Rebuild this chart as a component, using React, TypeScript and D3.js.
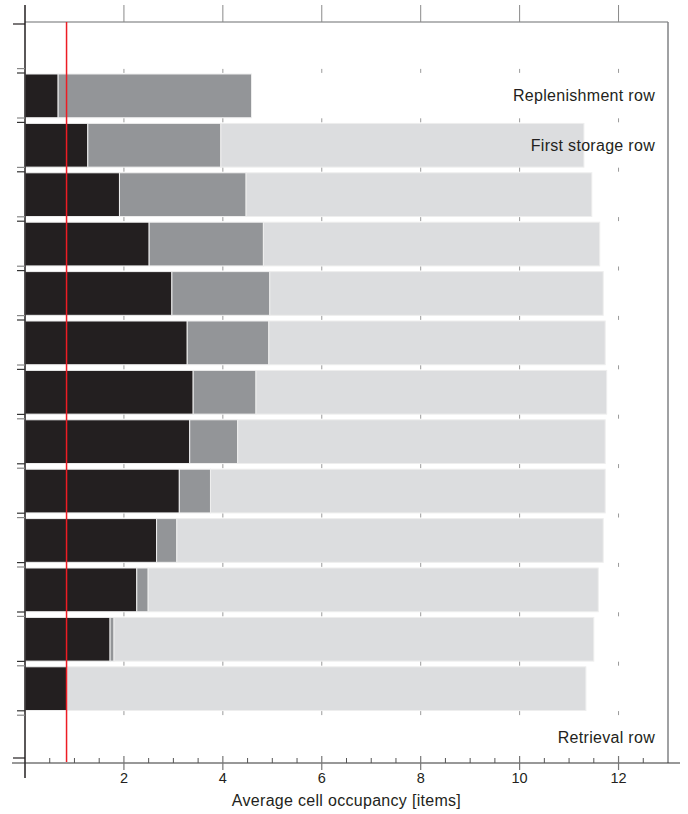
import React from "react";
import * as d3 from "d3";

// Row slots from top to bottom; the first slot is empty headroom and the
// last one is the retrieval row, which holds no bar.
const rowNames = [
  "",
  "Replenishment row",
  "First storage row",
  "Row 3",
  "Row 4",
  "Row 5",
  "Row 6",
  "Row 7",
  "Row 8",
  "Row 9",
  "Row 10",
  "Row 11",
  "Row 12",
  "Row 13",
  "Retrieval row",
];

// Rows that carry a stacked bar
const barRows = rowNames.slice(1, 14);

// Segment widths per bar row (items)
const darkSegment = [0.67, 1.27, 1.91, 2.51, 2.97, 3.28, 3.4, 3.33, 3.12, 2.66, 2.26, 1.72, 0.84];
const midSegment = [3.91, 2.69, 2.56, 2.31, 1.98, 1.65, 1.27, 0.97, 0.63, 0.41, 0.23, 0.08, 0.01];
const lightSegment = [0, 7.34, 6.99, 6.8, 6.74, 6.8, 7.09, 7.43, 7.98, 8.62, 9.1, 9.7, 10.49];

// Vertical reference line
const referenceValue = 0.84;

// Labelled rows at the right
const rowLabels = ["Replenishment row", "First storage row", "Retrieval row"];

const xMajorTicks = [2, 4, 6, 8, 10, 12];
const xTitle = "Average cell occupancy [items]";

const W = 688;
const H = 814;
const left = 25;
const right = 668;
const top = 22;
const bottom = 763;

const segKeys = ["dark", "mid", "light"];
const segColors: Record<string, string> = {
  dark: "#231f20",
  mid: "#939598",
  light: "#dcdddf",
};

export default function App() {
  const x = d3.scaleLinear().domain([0, 13]).range([left, right]);
  const y = d3.scaleLinear().domain([0, rowNames.length]).range([top, bottom]);
  const slotH = y(1) - y(0);

  const table = barRows.map((name, i) => ({
    name,
    dark: darkSegment[i],
    mid: midSegment[i],
    light: lightSegment[i],
  }));
  const stacked = d3.stack<any>().keys(segKeys)(table);

  const minorTicks = d3.range(0.5, 13, 0.5).filter((v) => v % 2 !== 0);
  const boundaries = d3.range(1, rowNames.length);
  const font = "'Liberation Sans', Arial, Helvetica, sans-serif";

  return (
    <>
      <style>{"body{margin:0}"}</style>
      <svg width={W} height={H} style={{ display: "block", background: "#fff" }}>
        {/* stacked bars */}
        {stacked.map((layer) => (
          <g key={layer.key} fill={segColors[layer.key]}>
            {layer.map((d, i) => {
              const w = x(d[1]) - x(d[0]);
              if (w <= 0) return null;
              const slot = rowNames.indexOf(barRows[i]);
              return (
                <rect
                  key={i}
                  x={x(d[0])}
                  y={y(slot) + 2.6}
                  width={w}
                  height={slotH * 0.885}
                  stroke="#eeeeee"
                  strokeWidth={1}
                />
              );
            })}
          </g>
        ))}

        {/* small marks at row boundaries */}
        {boundaries.map((k) =>
          xMajorTicks.map((v) => (
            <line
              key={`m${k}-${v}`}
              x1={x(v)}
              x2={x(v)}
              y1={y(k) - 2.5}
              y2={y(k) + 1.5}
              stroke="#9a9a9a"
              strokeWidth={1}
            />
          ))
        )}

        {/* frame: top and right */}
        <line x1={left} x2={right} y1={top} y2={top} stroke="#6d6e71" strokeWidth={1.2} />
        <line x1={right} x2={right} y1={top} y2={bottom} stroke="#808285" strokeWidth={1.5} />
        {xMajorTicks.map((v) => (
          <line key={`t${v}`} x1={x(v)} x2={x(v)} y1={5} y2={top} stroke="#8a8a8a" strokeWidth={1} />
        ))}

        {/* reference line */}
        <line
          x1={x(referenceValue)}
          x2={x(referenceValue)}
          y1={top}
          y2={bottom - 1}
          stroke="#ed1c24"
          strokeWidth={1.5}
        />

        {/* y axis with edge ticks */}
        <line x1={left} x2={left} y1={5} y2={778} stroke="#231f20" strokeWidth={1.5} />
        {boundaries.map((k) => (
          <g key={`yt${k}`}>
            <line x1={17} x2={left} y1={y(k) - 2.8} y2={y(k) - 2.8} stroke={k < 8 ? "#888" : "#333"} strokeWidth={1.2} />
            <line x1={17} x2={left} y1={y(k) + 1.6} y2={y(k) + 1.6} stroke={k < 8 ? "#333" : "#888"} strokeWidth={1.2} />
          </g>
        ))}
        <line x1={13} x2={left} y1={24} y2={24} stroke="#231f20" strokeWidth={1.2} />
        <line x1={13} x2={left} y1={758} y2={758} stroke="#231f20" strokeWidth={1.2} />

        {/* x axis */}
        <line x1={12} x2={680} y1={bottom} y2={bottom} stroke="#333" strokeWidth={1.2} />
        {minorTicks.map((v) => (
          <line key={`mn${v}`} x1={x(v)} x2={x(v)} y1={bottom - 5} y2={bottom} stroke="#555" strokeWidth={1} />
        ))}
        {xMajorTicks.map((v) => (
          <line key={`mj${v}`} x1={x(v)} x2={x(v)} y1={bottom - 7} y2={bottom + 7} stroke="#777" strokeWidth={1.2} />
        ))}
        {xMajorTicks.map((v) => (
          <text
            key={`lb${v}`}
            x={x(v)}
            y={783}
            textAnchor="middle"
            fontFamily={font}
            fontSize={14.5}
            fill="#231f20"
          >
            {v}
          </text>
        ))}
        <text
          x={(left + right) / 2}
          y={806}
          textAnchor="middle"
          fontFamily={font}
          fontSize={16}
          letterSpacing={0.3}
          fill="#231f20"
        >
          {xTitle}
        </text>

        {/* row labels */}
        {rowLabels.map((name) => {
          const slot = rowNames.indexOf(name);
          return (
            <text
              key={name}
              x={655}
              y={y(slot) + slotH / 2 + 5}
              textAnchor="end"
              fontFamily={font}
              fontSize={16}
              letterSpacing={0.3}
              fill="#231f20"
            >
              {name}
            </text>
          );
        })}
      </svg>
    </>
  );
}
